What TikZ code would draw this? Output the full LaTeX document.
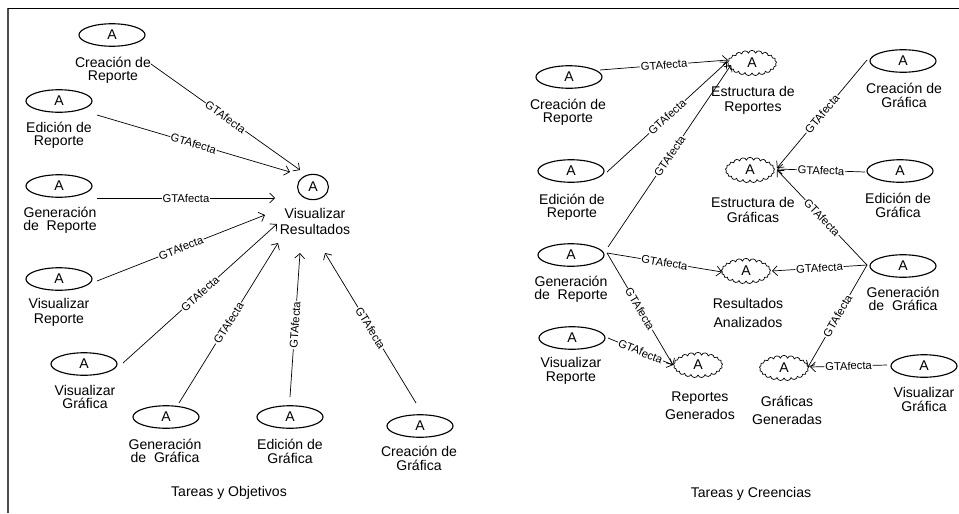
\documentclass[tikz,border=0pt]{standalone}
\usepackage{fontspec}
\setmainfont{Liberation Sans}
\usetikzlibrary{arrows.meta, shapes.geometric, shapes.symbols}
\tikzset{
  task/.style   = {ellipse, draw, line width=0.8pt, minimum width=47pt,
                   minimum height=16pt, inner sep=0pt, font=\fontsize{10}{12}\selectfont},
  goal/.style   = {ellipse, draw, line width=0.8pt, minimum width=22pt,
                   minimum height=18pt, inner sep=0pt, font=\fontsize{10}{12}\selectfont},
  belief/.style = {cloud, cloud puffs=21, cloud puff arc=150, cloud ignores aspect,
                   draw, line width=0.5pt, minimum width=35pt, minimum height=18pt,
                   inner sep=0pt, font=\fontsize{10}{12}\selectfont},
  txt/.style    = {align=center, inner sep=0pt, font=\fontsize{10}{#1}\selectfont},
  txt/.default  = 9.5,
  afecta/.style = {-{Straight Barb[length=3.5pt, width=7pt]}, line width=0.5pt},
  rel/.style    = {font=\fontsize{8}{8}\selectfont, fill=white, inner sep=0.6pt, sloped},
}
\begin{document}
\begin{tikzpicture}[x=0.025cm, y=-0.025cm]
  \useasboundingbox (0,0) rectangle (959,513);
  % frame
  \draw[line width=1.4pt, gray!60!black] (8,513) -- (8,8);
  \draw[line width=0.7pt] (8,8) -- (959,8);

  % ---- Tareas y Objetivos ----
  \foreach \n/\x/\y in {crep/112/35, erep/59/101, grep/59/186, vrep/59/279,
                        vgra/84/364, ggra/166/417, egra/290/417, cgra/420/426} {
    \node[task] (\n) at (\x,\y) {A};
  }
  \node[goal] (vres) at (313,187) {A};
  \node[txt] (crepl) at (113,70.5)  {Creación de\\Reporte};
  \node[txt] (erepl) at (59,135.5)  {Edición de\\Reporte};
  \node[txt] (grepl) at (60,220.5)  {Generación\\de~ Reporte};
  \node[txt=10.5] (vrepl) at (59,312.5) {Visualizar\\Reporte};
  \node[txt] (vgral) at (85,397)    {Visualizar\\Gráfica};
  \node[txt] (ggral) at (165,451)   {Generación\\de~ Gráfica};
  \node[txt] (egral) at (290,451.5) {Edición de\\Gráfica};
  \node[txt] (cgral) at (419,458.5) {Creación de\\Gráfica};
  \node[txt=12] (vresl) at (315,221.5) {Visualizar\\Resultados};
  \node[txt] (tobj) at (229,493) {Tareas y Objetivos};

  % all tasks point at the goal
  \foreach \src/\sx/\sy/\tx/\ty in {crep/39/29/-13/-17, erep/38/14/-23/-15,
                                    grep/38/12/-38/11, vrep/38/2/-48/28,
                                    vgra/39/-1/-36/37, ggra/13/-14/-35/56,
                                    egra/0/-20/-13/66, cgra/-4/-23/12/66} {
    \draw[afecta] ([shift={(\sx,\sy)}]\src.center)
      -- node[rel] {GTAfecta} ([shift={(\tx,\ty)}]vres.center);
  }

  % ---- Tareas y Creencias ----
  \foreach \n/\x/\y in {rcrep/569/77, rerep/571/171, rgrep/571/255, rvrep/572/338,
                        rcgra/903/61, regra/900/171, rggra/903/266, rvgra/924/366} {
    \node[task] (\n) at (\x,\y) {A};
  }
  \foreach \n/\x/\y in {estrep/752/63, estgra/750/170, resan/746/271,
                        repgen/698/365, gragen/784/368} {
    \node[belief] (\n) at (\x,\y) {A};
  }
  \node[txt] (rcrepl) at (568,112.5) {Creación de\\Reporte};
  \node[txt] (rerepl) at (572,207)   {Edición de\\Reporte};
  \node[txt] (rgrepl) at (571,289.5) {Generación\\de~ Reporte};
  \node[txt=10] (rvrepl) at (571,371) {Visualizar\\Reporte};
  \node[txt] (rcgral) at (904,95.5)  {Creación de\\Gráfica};
  \node[txt] (regral) at (898,205.5) {Edición de\\Gráfica};
  \node[txt] (rggral) at (903,299)   {Generación\\de~ Gráfica};
  \node[txt=10] (rvgral) at (924,399) {Visualizar\\Gráfica};
  \node[txt=10.7] (estrepl) at (753,100.5) {Estructura de\\Reportes};
  \node[txt=10.7] (estgral) at (753,209.5) {Estructura de\\Gráficas};
  \node[txt=13.5] (resanl) at (748,312.5)  {Resultados\\Analizados};
  \node[txt=12.8] (repgenl) at (700,406)   {Reportes\\Generados};
  \node[txt=12.8] (gragenl) at (787,410)   {Gráficas\\Generadas};
  \node[txt] (tcre) at (751,494) {Tareas y Creencias};

  \foreach \src/\sx/\sy/\dst/\tx/\ty in {rcrep/31/-7/estrep/-24/-3,
                                         rerep/36/1/estrep/-25/-1,
                                         rgrep/37/-8/estrep/-21/2,
                                         rgrep/36/-2/resan/-24/1,
                                         rgrep/36/-2/repgen/-25/0,
                                         rvrep/36/0/repgen/-25/0,
                                         rcgra/-36/-1/estgra/27/-2,
                                         regra/-35/1/estgra/27/-1,
                                         rggra/-36/-1/estgra/27/0,
                                         rggra/-36/-1/resan/26/0,
                                         rggra/-36/-1/gragen/24/-1,
                                         rvgra/-37/-1/gragen/26/-1} {
    \draw[afecta] ([shift={(\sx,\sy)}]\src.center)
      -- node[rel] {GTAfecta} ([shift={(\tx,\ty)}]\dst.center);
  }
\end{tikzpicture}
\end{document}
